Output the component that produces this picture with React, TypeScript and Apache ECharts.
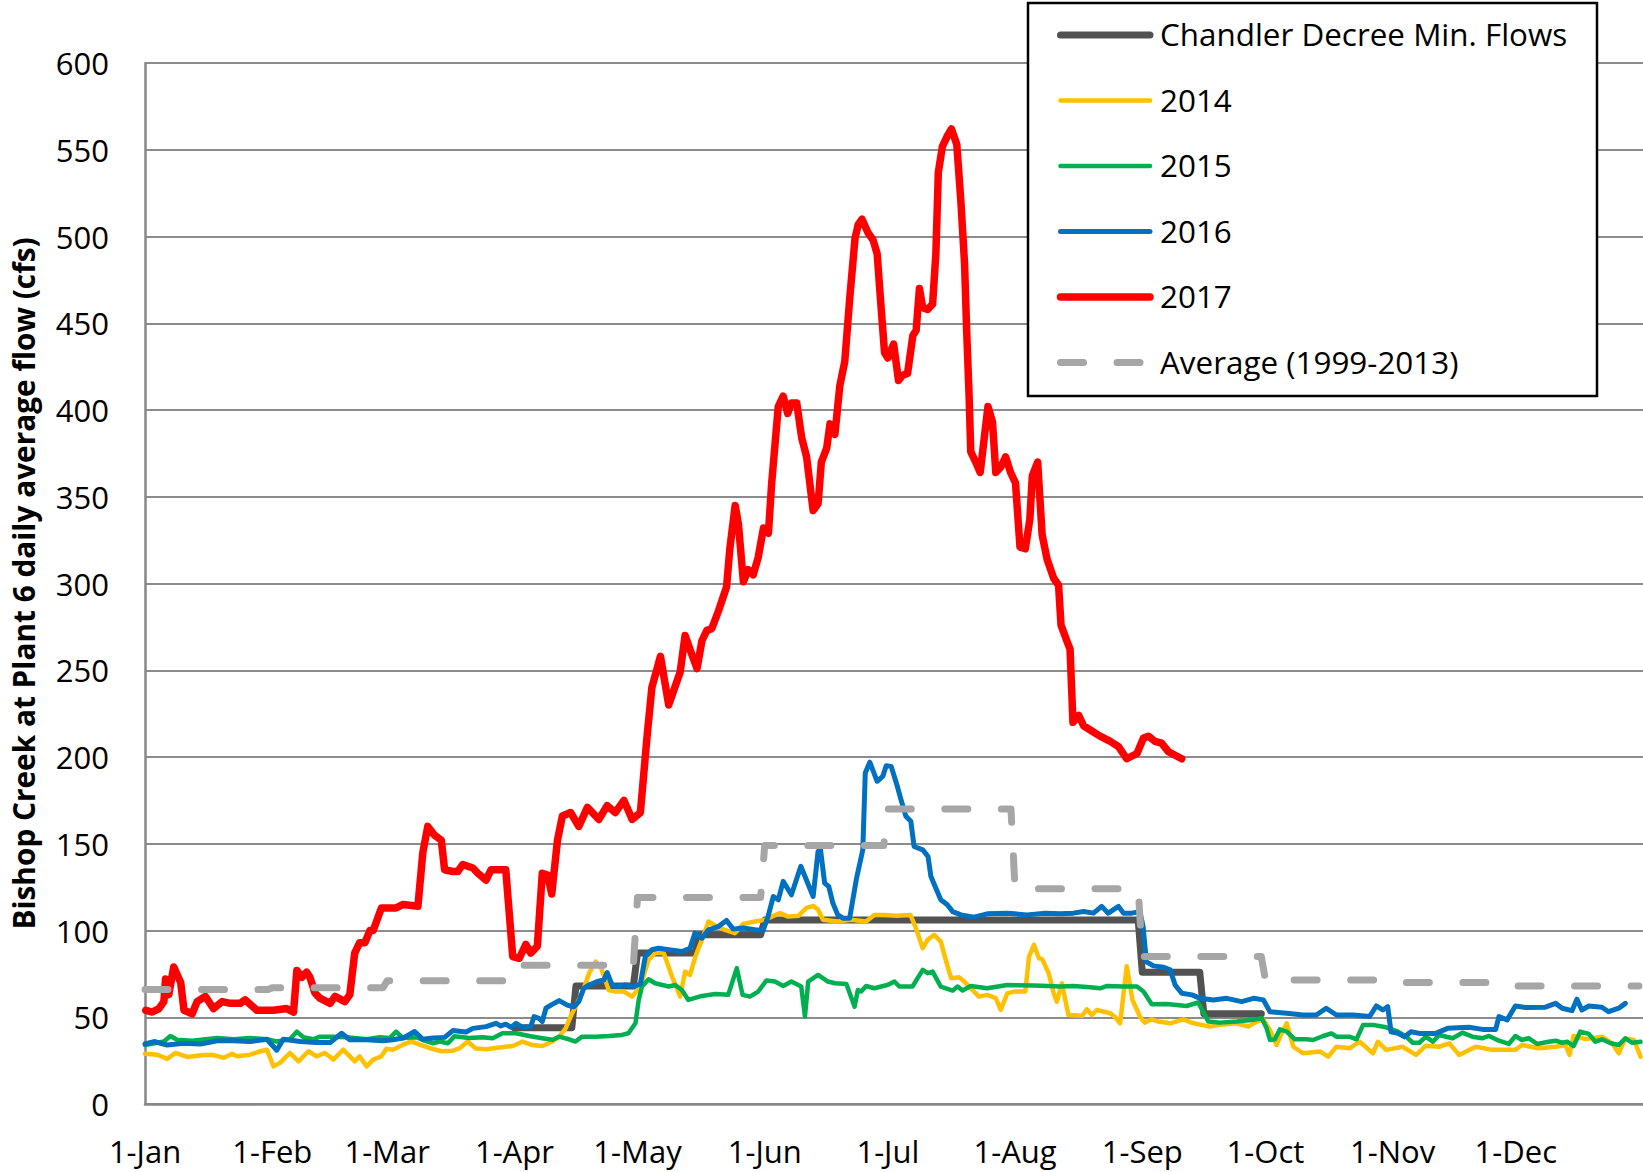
import React, { useEffect, useRef } from "react";
import * as echarts from "echarts";

// ---- axis ticks ----
const monthStartDays = [0, 31, 59, 90, 120, 151, 181, 212, 243, 273, 304, 334];
const monthLabels = ["1-Jan", "1-Feb", "1-Mar", "1-Apr", "1-May", "1-Jun", "1-Jul", "1-Aug", "1-Sep", "1-Oct", "1-Nov", "1-Dec"];

// ---- series values: [day of year (0 = 1-Jan), flow cfs] ----
const chandlerMinFlows: [number, number][] = [
  [90, 44], [104, 44], [105, 68], [119, 68], [120, 87], [134, 87], [135, 97.5], [150, 97.5],
  [151, 106], [242, 106], [243, 76], [257, 76], [258, 52], [272, 52],
];

const flow2014: [number, number][] = [
  [0, 29], [3, 28.4], [5.4, 26], [7.4, 29.4], [10.3, 27.1], [14.3, 28.2], [16.8, 28.2], [19.2, 26.6], [21.2, 29], [22.4, 27.5],
  [25.6, 28.4], [28.1, 30.4], [29.7, 31.3], [31.3, 21.7], [32.9, 23.7], [35.3, 29.4], [37.4, 24.6], [39.8, 30.4], [41.8, 27.5],
  [43.8, 29.4], [45.9, 25.6], [48.3, 31.3], [51.1, 24.6], [52.3, 27.5], [54, 21.7], [55.6, 25.6], [57.6, 27.5], [58.8, 31.8],
  [60.4, 31.3], [62.9, 34.2], [64.9, 36.1], [66.9, 34.2], [69.3, 32.3], [72.2, 30.4], [75, 30.7], [76.6, 32], [78.6, 36],
  [80.6, 32], [83.1, 31.5], [86.3, 32.6], [89.6, 33.4], [92, 36], [94.4, 34], [96.8, 33.4], [99.3, 36], [100.9, 38.8],
  [102.5, 43.6], [103.7, 50.4], [105.3, 58.1], [106.5, 63.8], [108.2, 75.4], [109.8, 82.1], [111, 79.2], [113, 65.7],
  [114.6, 64.8], [116.7, 64.8], [118.7, 61.9], [120.7, 67.7], [122.7, 83.1], [124.3, 87], [126.4, 87], [128.4, 73.5],
  [130.4, 61.9], [131.6, 76.3], [132.8, 74.4], [134.1, 85], [135.7, 94.6], [137.3, 105.2], [139.3, 102.3], [141.3, 100.4],
  [143.7, 98.5], [145.8, 103.8], [148.6, 105.2], [151.1, 106.2], [152.7, 108], [154.7, 110], [156.7, 108], [159.2, 108.5],
  [161.2, 113], [162.8, 114.2], [164, 112], [165.2, 106.2], [168.8, 105.2], [172, 106.2], [175.7, 105.2], [177.7, 109],
  [180.1, 109], [183.2, 108.5], [186.5, 109], [187.7, 102.3], [189.5, 89.8], [190.7, 94.6], [192.3, 97.5], [193.9, 93.6],
  [195.1, 83.1], [196.4, 72.5], [198.4, 73], [199.6, 70.6], [201.2, 66.7], [203.2, 61.9], [205.2, 62.9], [207.3, 61],
  [208.5, 54.2], [210.1, 63.8], [211.7, 64.8], [214.5, 64.8], [215.4, 85], [216.6, 91.7], [217.8, 84], [218.6, 83.5],
  [220.2, 75.4], [221.4, 63.8], [222.2, 59], [223.4, 69.6], [225, 51.3], [228.3, 50.8], [229.5, 54.6], [230.7, 51.3],
  [231.9, 54.2], [235.2, 52.3], [236.4, 50], [237.6, 46.5], [239.2, 79.4], [240.6, 60], [242.5, 50], [243.6, 46.9],
  [245.3, 48.8], [246.9, 47.5], [249.8, 46.5], [253, 48.8], [255.5, 46.5], [259.5, 44.6], [261.9, 45.6], [266, 46.5],
  [268.8, 44.6], [270.9, 47.5], [272.5, 48.5], [274.1, 42.7], [275.7, 34], [276.9, 40.7], [278.2, 46.5], [279.8, 33],
  [282.2, 29.2], [286.3, 30.2], [288.3, 27.3], [290.3, 33], [293.5, 32.1], [296, 35.9], [299.2, 29.2], [300.4, 35.9],
  [302.4, 31.2], [306.4, 33], [309.7, 28.3], [312.1, 33.6], [315.3, 33], [317.8, 35], [320.2, 28.3], [324.2, 33],
  [328.3, 31.2], [333.9, 31.2], [335.5, 34], [339.6, 32.1], [343.7, 33], [346.1, 34], [347.1, 28.3], [348.1, 39.3],
  [351, 37.4], [355, 38.8], [357.5, 35], [359.1, 29.2], [360.7, 37.8], [362.8, 36.9], [364.4, 27.3],
];

const flow2015: [number, number][] = [
  [0, 34], [4.6, 36], [6.2, 39.2], [7.8, 37], [11.5, 36.5], [17.6, 38], [21.6, 37.3], [25.6, 38], [29.7, 37.3], [32.1, 36],
  [35.3, 37.3], [37, 41.7], [38.6, 38.5], [41, 37.3], [42.6, 38.8], [45.9, 38.8], [49.1, 38.5], [54, 37.3], [57.2, 38.5],
  [59.6, 38], [61.2, 41.7], [62.9, 38], [66.1, 38.5], [68.1, 36.5], [70.2, 35], [71.8, 36], [73.8, 35], [75.4, 39], [79, 38],
  [82.3, 38.5], [84.7, 37.9], [87.1, 40.8], [90.4, 40.8], [93.6, 39.2], [96.8, 37.9], [99.3, 37], [100.9, 38.8], [103.3, 37.3],
  [104.9, 36], [106.5, 38.8], [109.8, 38.8], [113, 39.2], [116.2, 39.8], [117.8, 40.8], [119.5, 46.5], [120.3, 60],
  [121.1, 67.7], [122.7, 71.9], [124.3, 69.6], [127.6, 67.7], [129.2, 68.6], [130.8, 65.7], [132.4, 60], [135.7, 62.3],
  [138.9, 63.4], [142.1, 62.9], [144.2, 78.3], [145.6, 62.9], [147.4, 61.9], [149.4, 64.8], [151.4, 71.2], [153.5, 70.6],
  [155.5, 68], [157.5, 70.6], [159.9, 67.7], [160.8, 50.4], [161.6, 70.6], [164, 74.4], [166.4, 70.6], [168.1, 69.6],
  [170.9, 69.2], [172.9, 56.1], [173.7, 65.7], [174.5, 64.8], [175.7, 68], [177.7, 66.7], [180.9, 68.6], [182.6, 70.6],
  [183.8, 67.7], [187, 67.7], [189.5, 77.3], [190.7, 75.4], [191.9, 76.3], [193.9, 67.7], [196.8, 65.4], [198, 67.7],
  [199.2, 65.4], [201.2, 68], [205.2, 66.7], [210.1, 68.6], [216.6, 68.3], [223, 67.7], [226.2, 68], [230.3, 67.3],
  [232.7, 66.7], [234.3, 68], [238.4, 67.7], [241.7, 67.7], [243.3, 64.8], [245.3, 57.5], [248.9, 57.7], [253.8, 56.5],
  [256.6, 58.5], [257.8, 53.3], [259.1, 47.5], [261.9, 46.9], [266, 47.5], [270.1, 48.5], [272.1, 49.4], [273.3, 43.6],
  [274.1, 36.9], [275.3, 37.3], [276.5, 43], [278.2, 41.7], [280.2, 37.3], [283, 37.3], [284.6, 36.9], [287.1, 39.2],
  [289.1, 40.7], [290.3, 38.8], [293.5, 38.8], [295.2, 37.3], [296.8, 45.6], [299.2, 45.6], [302.4, 44.2], [305.3, 41.7],
  [307.3, 38.8], [308.9, 35.3], [310.5, 35.3], [312.1, 38.8], [313.8, 35.9], [315.3, 39.8], [318.6, 37.9], [321, 41.1],
  [323.4, 38.8], [325.9, 37.9], [327.5, 39.2], [329.9, 36.5], [332.3, 34.6], [333.9, 39.2], [335.5, 36.9], [337.1, 37.9],
  [339.2, 34.6], [342, 35.9], [343.7, 36.5], [345.3, 35.3], [346.5, 35.9], [348.1, 33.4], [349.7, 41.7], [351.8, 40.4],
  [353.4, 35.9], [355, 37.3], [357.1, 35], [359.1, 34], [360.7, 37.9], [362.3, 35.3], [364.4, 35.9],
];

const flow2016: [number, number][] = [
  [0, 34.6], [2.2, 36], [5.4, 34], [9.5, 35], [13.5, 34.6], [17.6, 36.5], [21.6, 36.5], [25.6, 36], [29.7, 37.3], [32.1, 31],
  [33.7, 37.3], [37.8, 36], [41.8, 35.4], [45.1, 35.4], [47.9, 40.8], [49.9, 37], [54, 37], [58, 36.5], [60.4, 37], [62.9, 38],
  [65.7, 41.8], [67.7, 37.3], [70.2, 38], [73, 38.4], [75, 42.3], [78.2, 41.5], [79.9, 43.6], [83.1, 44.6], [85.5, 46.5],
  [86.7, 45], [87.9, 46], [89.2, 44.2], [90.4, 46.5], [92, 44.2], [94, 44.6], [94.8, 50.4], [96, 49.4], [96.8, 47.5],
  [97.7, 55.2], [98.9, 57], [100.9, 59.6], [102.9, 57], [104.5, 56], [105.7, 59], [106.9, 66.7], [108.2, 68.6], [110.2, 70.6],
  [111.8, 71.5], [112.6, 75.8], [113.8, 68.6], [115.4, 67.7], [117, 68.6], [119, 67.7], [120.7, 69.2], [121.9, 85],
  [123.5, 88.9], [125.1, 89.8], [127.6, 88.9], [130.8, 87.9], [132.8, 89.8], [134, 98.5], [135.7, 95.6], [137.3, 100.4],
  [139.7, 102.3], [141.7, 105.8], [143.3, 100.8], [145.8, 101.5], [148.6, 100.4], [150.6, 100], [151.8, 108], [153.1, 119.6],
  [154.3, 117.7], [155.5, 128.3], [157.5, 120.6], [159.8, 137], [162.8, 119.6], [164, 145.6], [164.6, 146.5], [165.6, 127.3],
  [166.6, 125.4], [167.6, 115.8], [168.8, 109], [170.1, 107.1], [171.7, 107.1], [173.3, 129.2], [174.9, 146.5],
  [175.5, 190.8], [176.6, 197], [178.4, 186], [179.8, 189], [180.6, 195], [181.8, 194.6], [183.2, 184], [184.2, 175.4],
  [185.4, 165.8], [186.6, 162.9], [187.4, 148.4], [189.5, 146.5], [190.8, 142.6], [191.5, 131.1], [192.7, 124.4],
  [193.9, 117.7], [195.5, 114.8], [196.8, 110.9], [198.8, 109], [202, 107.7], [205.2, 109.6], [210.1, 110], [214.9, 109],
  [219.4, 110], [223, 109.6], [226.2, 110], [228.7, 110.9], [231.1, 110], [233.1, 113.9], [234.7, 110], [237.2, 113.9],
  [238.4, 110], [240.4, 110], [242.4, 110.9], [243.2, 102.3], [244, 82], [245.7, 79.6], [248.2, 78.8], [249.8, 77.3],
  [251, 68.6], [252.6, 63.8], [255.1, 62.9], [257.1, 60.9], [260.3, 60], [263.6, 60.9], [267.2, 59], [270.1, 60.9],
  [272.5, 60], [274.1, 53.2], [278.2, 52.3], [282.2, 51.3], [285.4, 51.3], [287.8, 55.2], [290.3, 51.3], [294.3, 51.3],
  [298.4, 50.4], [300, 56.5], [301.6, 54.2], [302.8, 56.1], [303.6, 41.6], [305.3, 40.7], [306.9, 38.7], [308.5, 41.6],
  [310.5, 40.7], [314.5, 40.7], [317.4, 43.6], [322.6, 44.2], [325.9, 43], [329.1, 43], [329.9, 50.4], [331.9, 48.5],
  [333.9, 56.5], [336.4, 55.6], [341.2, 55.8], [343.7, 58], [345.3, 55.2], [347.7, 53.8], [348.9, 60.4], [350.1, 54.2],
  [351.8, 56.5], [355, 55.8], [356.6, 53.2], [359.1, 55.2], [360.7, 58],
];

const flow2017: [number, number][] = [
  [0.2, 54], [1.8, 53], [3.4, 55], [4.6, 59], [5.0, 72], [5.8, 63], [7.0, 79], [8.7, 70], [9.5, 54], [11.5, 52], [12.7, 59],
  [14.7, 62], [16.7, 55], [18.8, 59], [20.8, 58], [23.2, 58], [24.4, 60], [27.3, 54], [31.3, 54], [34.5, 55], [36.2, 53],
  [37.0, 77], [38.2, 73], [39.4, 76], [40.2, 73], [41.4, 64], [42.6, 61], [45.1, 58], [46.3, 62], [48.7, 59], [49.9, 63],
  [51.1, 87], [52.3, 93], [53.6, 93], [54.8, 100], [55.6, 100], [57.6, 113], [61.2, 113], [62.9, 115], [66.5, 114],
  [67.7, 145], [68.9, 160], [70.5, 155], [72.2, 152], [73.0, 135], [75.0, 134], [76.2, 134], [77.4, 138], [79.9, 136],
  [81.1, 133], [83.1, 129], [84.3, 135], [86.3, 135], [87.9, 135], [89.6, 85], [91.2, 84], [92.8, 92], [94.0, 87],
  [95.6, 91], [96.8, 133], [98.1, 132], [99.1, 121], [100.5, 152], [101.7, 166], [103.7, 168], [105.7, 160], [107.8, 171],
  [110.6, 164], [112.6, 172], [114.6, 168], [116.7, 175], [118.7, 164], [120.7, 168], [122.3, 211], [123.5, 240],
  [125.6, 258], [127.6, 230], [130.4, 249], [131.6, 270], [132.8, 262], [134.5, 251], [135.7, 267], [136.9, 273],
  [138.1, 274], [139.7, 284], [141.7, 298], [142.5, 320], [143.8, 345], [144.6, 334], [145.8, 301], [147, 308], [148.2, 305],
  [149.4, 315], [150.7, 332], [151.9, 329], [152.7, 358], [154.3, 402], [155.5, 408], [156.6, 398], [157.5, 404],
  [158.8, 404], [160, 384], [161.2, 373], [162.8, 342], [164, 346], [164.8, 370], [166.1, 378], [166.9, 392], [168.1, 386],
  [169.3, 414], [170.5, 428], [171.7, 464], [173, 499], [173.8, 507], [174.7, 510], [176.2, 502], [177.4, 498], [178.4, 490],
  [179.2, 464], [180.2, 433], [181, 430], [182.4, 438], [183.6, 417], [184.6, 420], [185.8, 421], [187.1, 443], [187.9, 446],
  [188.7, 470], [189.5, 459], [190.7, 458], [191.9, 461], [192.7, 490], [193.3, 537], [194.3, 552], [195.5, 558],
  [196.5, 562], [197.8, 553], [198.8, 520], [199.7, 484], [200.2, 446], [200.8, 408], [201.2, 376], [202.4, 370],
  [203.5, 364], [204.5, 384], [205.4, 402], [206.5, 393], [207.3, 364], [208.5, 367], [209.7, 373], [210.9, 364],
  [212.1, 358], [213.2, 321], [214.5, 320], [215.6, 337], [216.2, 362], [217.5, 370], [218.6, 328], [219.8, 314],
  [221.4, 303], [222.6, 299], [223.2, 276], [224.6, 267], [225.4, 262], [226.1, 220], [227.5, 224], [228.7, 218],
  [230.7, 215], [232.7, 212], [235.2, 209], [237.2, 206], [239.2, 199], [241.7, 202], [243.3, 211], [244.5, 212],
  [246.1, 209], [247.7, 208], [249.4, 203], [251, 201], [252.6, 199],
];

const average1999to2013: [number, number][] = [
  [0, 66], [30, 66], [31, 67], [58, 67], [59, 71], [89, 71], [90, 80], [119, 80], [120, 119], [150, 119], [151, 149],
  [180, 149], [181, 170], [211, 170], [212, 124], [242, 124], [243, 85], [272, 85], [273, 71.5], [303, 71.5], [304, 70],
  [333, 70], [334, 68], [364, 68],
];

const seriesNames = ["Chandler Decree Min. Flows", "2014", "2015", "2016", "2017", "Average (1999-2013)"];
const seriesData = [chandlerMinFlows, flow2014, flow2015, flow2016, flow2017, average1999to2013];

// ---- styles ----
const seriesColors = ["#525252", "#FFC000", "#00B050", "#0070C0", "#FF0000", "#A6A6A6"];
const seriesWidths = [7, 4.5, 4.5, 5, 7.5, 7];
const seriesDash: (number[] | "solid")[] = ["solid", "solid", "solid", "solid", "solid", [23, 33.5]];
const FONT = "Open Sans";

export default function App() {
  const ref = useRef<HTMLDivElement>(null);

  useEffect(() => {
    if (!ref.current) return;
    const chart = echarts.init(ref.current, null, { renderer: "svg" });

    const legendLeft = 1028;
    const legendTop = 3;
    const legendW = 569;
    const legendH = 393;
    const itemY0 = 35;
    const itemStep = 65.5;

    const legendGraphics: any[] = [
      {
        type: "rect",
        z: 100,
        shape: { x: legendLeft, y: legendTop, width: legendW, height: legendH },
        style: { fill: "#fff", stroke: "#000", lineWidth: 2.5 },
      },
    ];
    seriesNames.forEach((name, i) => {
      const cy = itemY0 + i * itemStep;
      legendGraphics.push({
        type: "line",
        z: 101,
        shape: { x1: 1060.5, y1: cy, x2: 1150, y2: cy },
        style: {
          stroke: seriesColors[i],
          lineWidth: seriesWidths[i],
          lineCap: "round",
          lineDash: seriesDash[i] === "solid" ? null : (seriesDash[i] as number[]),
        },
      });
      legendGraphics.push({
        type: "text",
        z: 101,
        x: 1160,
        y: cy - 1.5,
        style: {
          text: name,
          fontSize: 31.4,
          fontFamily: FONT,
          fill: "#000",
          align: "left",
          verticalAlign: "middle",
        },
      });
    });

    chart.setOption({
      animation: false,
      backgroundColor: "#fff",
      grid: { left: 141, top: 63, width: 1504, height: 1041, containLabel: false },
      xAxis: {
        type: "value",
        min: 0,
        max: 365,
        axisLine: { show: true, lineStyle: { color: "#878787", width: 2.5 } },
        axisTick: { show: false, customValues: monthStartDays },
        splitLine: { show: false },
        axisLabel: {
          customValues: monthStartDays,
          formatter: (v: number) => {
            const idx = monthStartDays.indexOf(Math.round(v));
            return idx >= 0 ? monthLabels[idx] : "";
          },
          fontSize: 31,
          fontFamily: FONT,
          color: "#000",
          margin: 31,
        },
      },
      yAxis: {
        type: "value",
        min: 0,
        max: 600,
        interval: 50,
        name: "Bishop Creek at Plant 6 daily average flow (cfs)",
        nameLocation: "middle",
        nameGap: 107,
        nameTextStyle: { fontSize: 29.8, fontWeight: "bold", fontFamily: FONT, color: "#000" },
        axisLine: { show: true, lineStyle: { color: "#878787", width: 2.5 } },
        axisTick: { show: false },
        splitLine: { show: true, lineStyle: { color: "#8c8c8c", width: 2 } },
        axisLabel: { fontSize: 31, fontFamily: FONT, color: "#000", margin: 36 },
      },
      series: seriesNames.map((name, i) => ({
        name,
        type: "line",
        data: seriesData[i],
        symbol: "none",
        showSymbol: false,
        z: 2 + i,
        lineStyle: {
          color: seriesColors[i],
          width: seriesWidths[i],
          type: seriesDash[i],
          cap: "round",
          join: "round",
        },
        emphasis: { disabled: true },
      })),
      graphic: legendGraphics,
    });

    return () => chart.dispose();
  }, []);

  return (
    <div
      ref={ref}
      style={{ position: "fixed", left: 0, top: 0, width: 1643, height: 1172, background: "#fff" }}
    />
  );
}
